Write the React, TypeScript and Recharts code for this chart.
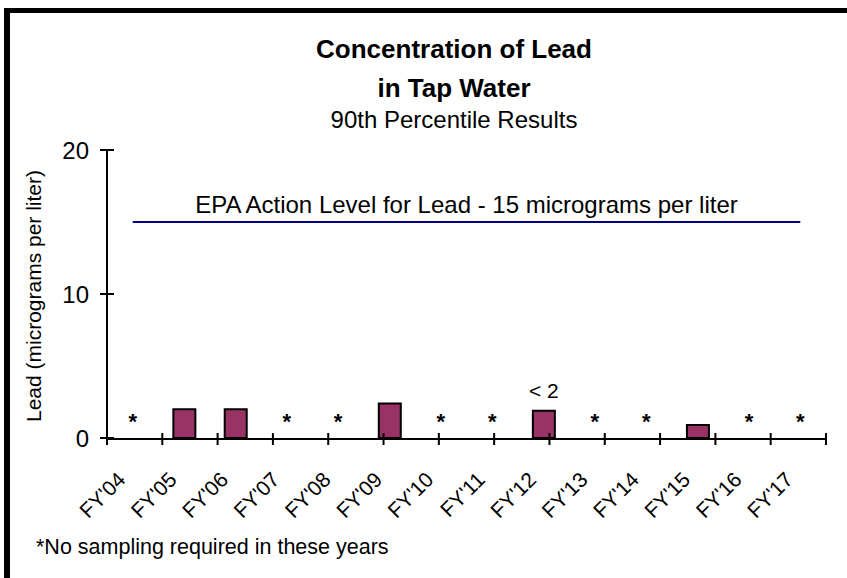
import {
  Bar,
  ComposedChart,
  LabelList,
  Line,
  ReferenceLine,
  XAxis,
  YAxis,
} from "recharts";

const years = [
  "FY'04", "FY'05", "FY'06", "FY'07", "FY'08", "FY'09", "FY'10",
  "FY'11", "FY'12", "FY'13", "FY'14", "FY'15", "FY'16", "FY'17",
];
// null = no sampling required that year (shown as *)
const lead: (number | null)[] = [
  null, 2.0, 2.0, null, null, 2.4, null, null, 1.9, null, null, 0.9, null, null,
];
const notes = ["", "", "", "", "", "", "", "", "< 2", "", "", "", "", ""];
const actionLevel = 15;
const leadTicks = [0, 10, 20];
const yearEdges = [0, 1, 2, 3, 4, 5, 6, 7, 8, 9, 10, 11, 12, 13, 14];

const FONT = "'Liberation Sans', Arial, sans-serif";

const data = years.map((year, i) => ({
  year,
  lead: lead[i],
  note: notes[i],
  action: actionLevel,
}));

function YearTick({ x, y, payload }: any) {
  const tx = x - 6;
  const ty = y + 43;
  return (
    <text
      x={tx}
      y={ty}
      transform={`rotate(-45 ${tx} ${ty})`}
      textAnchor="end"
      fontSize={21}
      fontFamily={FONT}
      fill="#000"
    >
      {payload.value}
    </text>
  );
}

function EdgeTick({ x, y }: any) {
  return <line x1={x} x2={x} y1={y - 6} y2={y + 6} stroke="#000" strokeWidth={2} />;
}

function LevelTick({ x, y, payload }: any) {
  return (
    <g>
      <line x1={x - 7} x2={x + 7} y1={y} y2={y} stroke="#000" strokeWidth={2} />
      <text x={x - 18} y={y} dy="0.36em" textAnchor="end" fontSize={24} fontFamily={FONT} fill="#000">
        {payload.value}
      </text>
    </g>
  );
}

function NoteLabel(props: any) {
  const { x, y, width, value } = props;
  if (!value) return null;
  return (
    <text x={x + width / 2} y={y - 13} textAnchor="middle" fontSize={21} fontFamily={FONT} fill="#000">
      {value}
    </text>
  );
}

function StarDot(props: any) {
  const { cx, cy, payload, index } = props;
  if (payload.lead != null) return <g key={index} />;
  return (
    <text key={index} x={cx} y={cy - 9} textAnchor="middle" fontSize={22} fontWeight="bold" fontFamily={FONT} fill="#000">
      *
    </text>
  );
}

export default function App() {
  return (
    <div style={{ position: "absolute", left: 0, top: 0, width: 847, height: 578, background: "#fff", fontFamily: FONT }}>
      <div
        style={{
          position: "absolute",
          left: 4,
          top: 8,
          width: 843,
          height: 570,
          boxSizing: "border-box",
          borderTop: "5px solid #000",
          borderLeft: "6px solid #000",
        }}
      />
      <div style={{ position: "absolute", left: 0, width: 908, top: 36, textAlign: "center", fontSize: 26, fontWeight: "bold", lineHeight: 1 }}>
        Concentration of Lead
      </div>
      <div style={{ position: "absolute", left: 0, width: 908, top: 75, textAlign: "center", fontSize: 26, fontWeight: "bold", lineHeight: 1 }}>
        in Tap Water
      </div>
      <div style={{ position: "absolute", left: 0, width: 908, top: 108, textAlign: "center", fontSize: 24, lineHeight: 1 }}>
        90th Percentile Results
      </div>
      <div
        style={{
          position: "absolute",
          left: 33,
          top: 296,
          transform: "translate(-50%, -50%) rotate(-90deg)",
          whiteSpace: "nowrap",
          fontSize: 21,
          lineHeight: 1,
        }}
      >
        Lead (micrograms per liter)
      </div>
      <div style={{ position: "absolute", left: 36, top: 537, fontSize: 21.5, lineHeight: 1, whiteSpace: "nowrap" }}>
        *No sampling required in these years
      </div>
      <div style={{ position: "absolute", left: 0, top: 0 }}>
        <ComposedChart width={847} height={578} data={data} margin={{ top: 150, right: 21, bottom: 138, left: 67 }}>
          <XAxis
            xAxisId="edge"
            type="number"
            domain={[0, 14]}
            ticks={yearEdges}
            allowDataOverflow
            height={1}
            axisLine={{ stroke: "#000", strokeWidth: 2 }}
            tickLine={false}
            tickSize={0}
            tickMargin={0}
            interval={0}
            tick={<EdgeTick />}
          />
          <XAxis
            xAxisId="cat"
            dataKey="year"
            height={1}
            axisLine={false}
            tickLine={false}
            tickSize={0}
            tickMargin={0}
            interval={0}
            tick={<YearTick />}
          />
          <YAxis
            domain={[0, 20]}
            ticks={leadTicks}
            width={40}
            axisLine={{ stroke: "#000", strokeWidth: 2 }}
            tickLine={false}
            tickSize={0}
            tickMargin={0}
            interval={0}
            tick={<LevelTick />}
          />
          <ReferenceLine
            xAxisId="cat"
            y={actionLevel}
            stroke="none"
            label={{
              value: "EPA Action Level for Lead - 15 micrograms per liter",
              position: "top",
              offset: 9,
              fontSize: 24,
              fontFamily: FONT,
              fill: "#000",
            }}
          />
          <Line
            xAxisId="cat"
            dataKey="action"
            stroke="#000080"
            strokeWidth={2}
            dot={false}
            activeDot={false}
            isAnimationActive={false}
          />
          <Bar
            xAxisId="cat"
            dataKey="lead"
            barSize={22}
            fill="#993366"
            stroke="#000"
            strokeWidth={2}
            isAnimationActive={false}
          >
            <LabelList dataKey="note" content={<NoteLabel />} />
          </Bar>
          <Line
            xAxisId="cat"
            dataKey={() => 0}
            stroke="none"
            dot={StarDot}
            activeDot={false}
            isAnimationActive={false}
          />
        </ComposedChart>
      </div>
    </div>
  );
}
